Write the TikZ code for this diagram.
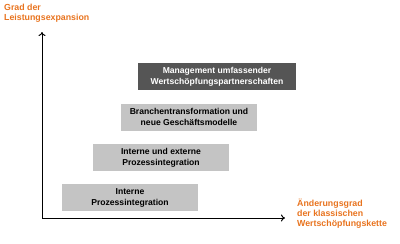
\documentclass[tikz,border=0pt]{standalone}
\usepackage{fontspec}
\setmainfont{Liberation Sans}
\usetikzlibrary{arrows.meta, positioning}
\definecolor{axisorange}{HTML}{E8731E}
\definecolor{lightbox}{HTML}{C4C4C4}
\definecolor{darkbox}{HTML}{555555}
\tikzset{
  block/.style  = {rectangle, align=center, fill=lightbox, font=\bfseries\fontsize{8.6}{11}\selectfont,
                   minimum height=27pt, minimum width=136pt, inner sep=0pt},
  topblock/.style = {block, fill=darkbox, text=white, minimum width=158pt},
  arr/.style    = {-{To[length=4pt, width=7pt]}, line width=1pt},
  lbl/.style    = {font=\bfseries\fontsize{8.8}{9.8}\selectfont, text=axisorange, align=left, inner sep=0pt}
}
\begin{document}
\begin{tikzpicture}[x=1pt, y=-1pt]
  \useasboundingbox (0,0) rectangle (400,244);

  % ── Axes ──────────────────────────────────────────────────────────────────
  \coordinate (O)    at (42,218);
  \coordinate (Ytip) at (42,32);
  \coordinate (Xtip) at (285,218);
  \draw[arr] (O) -- (Ytip);
  \draw[arr] (O) -- (Xtip);

  % ── Axis labels ───────────────────────────────────────────────────────────
  \node[lbl, anchor=north west] (Ylbl) at (4,4)   {Grad der\\Leistungsexpansion};
  \node[lbl, anchor=north west] (Xlbl) at (297,199) {Änderungsgrad\\der klassischen\\Wertschöpfungskette};

  % ── Stages ────────────────────────────────────────────────────────────────
  \node[block]    (Intern)  at (130,197.5) {Interne\\Prozessintegration};
  \node[block]    (Extern)  at (161,157.5) {Interne und externe\\Prozessintegration};
  \node[block]    (Branche) at (189,117)   {Branchentransformation und\\neue Geschäftsmodelle};
  \node[topblock] (Mgmt)    at (217,76.5)  {Management umfassender\\Wertschöpfungspartnerschaften};

\end{tikzpicture}
\end{document}
